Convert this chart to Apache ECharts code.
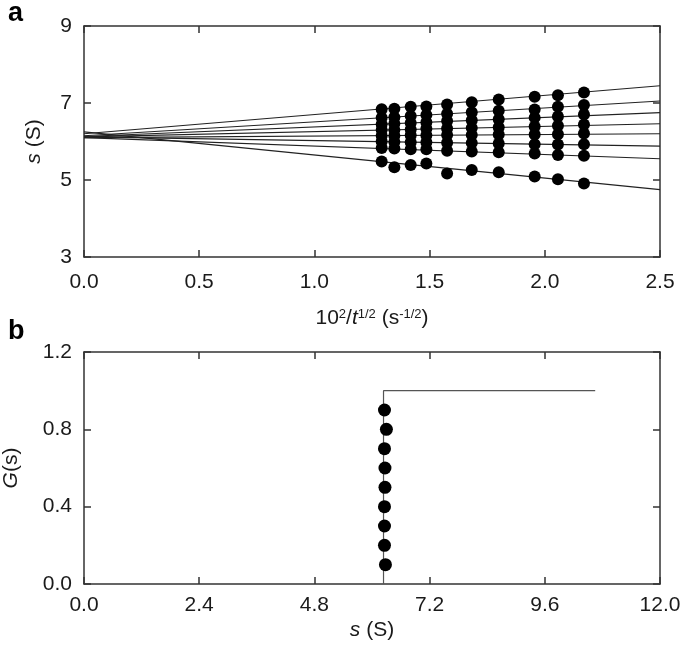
<!DOCTYPE html>
<html>
<head>
<meta charset="utf-8">
<script src="https://cdn.jsdelivr.net/npm/echarts@6/dist/echarts.min.js"></script>
<style>
html,body{margin:0;padding:0;background:#fff;}
#c{width:685px;height:646px;}
</style>
</head>
<body>
<div id="c"></div>
<script>
// ---- Panel a data ----
const xCols = [1.292, 1.347, 1.418, 1.486, 1.576, 1.683, 1.800, 1.956, 2.057, 2.170];
const sRow1 = [6.84, 6.85, 6.90, 6.91, 6.96, 7.02, 7.09, 7.16, 7.20, 7.27];
const sRow2 = [6.62, 6.63, 6.66, 6.69, 6.72, 6.76, 6.80, 6.83, 6.90, 6.95];
const sRow3 = [6.45, 6.46, 6.48, 6.50, 6.53, 6.55, 6.58, 6.62, 6.65, 6.70];
const sRow4 = [6.30, 6.30, 6.31, 6.33, 6.34, 6.35, 6.37, 6.39, 6.41, 6.44];
const sRow5 = [6.15, 6.15, 6.16, 6.16, 6.17, 6.17, 6.18, 6.18, 6.19, 6.21];
const sRow6 = [6.00, 5.99, 5.98, 5.98, 5.97, 5.96, 5.95, 5.93, 5.92, 5.93];
const sRow7 = [5.83, 5.82, 5.80, 5.80, 5.76, 5.74, 5.72, 5.69, 5.65, 5.63];
const sRow8 = [5.48, 5.33, 5.39, 5.43, 5.17, 5.26, 5.20, 5.09, 5.02, 4.91];
const sRows = [sRow1, sRow2, sRow3, sRow4, sRow5, sRow6, sRow7, sRow8];
const fitX = [0, 2.5];
const fitStart = [6.20, 6.15, 6.13, 6.12, 6.10, 6.12, 6.10, 6.25];
const fitEnd = [7.45, 7.05, 6.75, 6.46, 6.20, 5.88, 5.55, 4.75];

// ---- Panel b data ----
const gLevels = [0.1, 0.2, 0.3, 0.4, 0.5, 0.6, 0.7, 0.8, 0.9];
const gS = [6.28, 6.26, 6.26, 6.26, 6.27, 6.27, 6.26, 6.30, 6.26];
const stepS = [6.24, 6.24, 10.65];
const stepG = [0, 1.0, 1.0];

const FONT = 'Liberation Sans, Arial, sans-serif';
const FS = 21;
const TXT = '#1a1a1a';
const AX = '#333';

function baseAxis(extra) {
  return Object.assign({
    axisLine: {show: true, onZero: false, lineStyle: {color: AX, width: 1.5}},
    axisTick: {show: true, inside: true, length: 7, lineStyle: {color: AX, width: 1.5}},
    splitLine: {show: false}
  }, extra);
}
function mirror(extra) {
  return Object.assign({
    axisLine: {show: true, onZero: false, lineStyle: {color: AX, width: 1.5}},
    axisTick: {show: true, inside: true, length: 7, lineStyle: {color: AX, width: 1.5}},
    axisLabel: {show: false},
    splitLine: {show: false}
  }, extra);
}
const richBase = {
  a: {fontSize: FS, fontFamily: FONT, color: TXT},
  i: {fontSize: FS, fontFamily: FONT, color: TXT, fontStyle: 'italic'},
  sup: {fontSize: 13, fontFamily: FONT, color: TXT, verticalAlign: 'top', padding: [0, 0, 11, 0], lineHeight: 13}
};

const series = [];
for (let i = 0; i < fitStart.length; i++) {
  series.push({
    type: 'line', xAxisIndex: 0, yAxisIndex: 0,
    data: [[fitX[0], fitStart[i]], [fitX[1], fitEnd[i]]],
    showSymbol: false, symbol: 'none', silent: true,
    lineStyle: {color: '#222', width: 1.1}, z: 2
  });
}
for (let i = 0; i < sRows.length; i++) {
  series.push({
    type: 'scatter', xAxisIndex: 0, yAxisIndex: 0,
    data: xCols.map((x, j) => [x, sRows[i][j]]),
    symbol: 'circle', symbolSize: 12,
    itemStyle: {color: '#000', opacity: 1}, z: 3
  });
}
series.push({
  type: 'line', xAxisIndex: 2, yAxisIndex: 2,
  data: stepS.map((s, i) => [s, stepG[i]]),
  showSymbol: false, symbol: 'none',
  lineStyle: {color: '#555', width: 1.2}, z: 2
});
series.push({
  type: 'scatter', xAxisIndex: 2, yAxisIndex: 2,
  data: gLevels.map((g, i) => [gS[i], g]),
  symbol: 'circle', symbolSize: 13,
  itemStyle: {color: '#000', opacity: 1}, z: 3
});

const option = {
  backgroundColor: '#fff',
  animation: false,
  title: [
    {text: 'a', left: 3, top: -5, textStyle: {fontSize: 27, fontWeight: 'bold', fontFamily: FONT, color: '#000'}},
    {text: 'b', left: 3, top: 313, textStyle: {fontSize: 27, fontWeight: 'bold', fontFamily: FONT, color: '#000'}}
  ],
  grid: [
    {left: 84, top: 26, width: 576, height: 231, containLabel: false, outerBoundsMode: 'none'},
    {left: 84, top: 352, width: 576, height: 232, containLabel: false, outerBoundsMode: 'none'}
  ],
  xAxis: [
    baseAxis({
      type: 'value', gridIndex: 0, min: 0, max: 2.5, interval: 0.5, position: 'bottom',
      axisLabel: {color: TXT, fontSize: FS, fontFamily: FONT, margin: 15, formatter: v => v.toFixed(1)},
      name: '{a|10}{sup|2}{a|/}{i|t}{sup|1/2}{a| (s}{sup|-1/2}{a|)}',
      nameLocation: 'middle', nameGap: 51,
      nameTextStyle: {rich: richBase}
    }),
    mirror({type: 'value', gridIndex: 0, min: 0, max: 2.5, interval: 0.5, position: 'top'}),
    baseAxis({
      type: 'value', gridIndex: 1, min: 0, max: 12, interval: 2.4, position: 'bottom',
      axisLabel: {color: TXT, fontSize: FS, fontFamily: FONT, margin: 11, formatter: v => v.toFixed(1)},
      name: '{i|s}{a| (S)}', nameLocation: 'middle', nameGap: 36,
      nameTextStyle: {rich: richBase}
    }),
    mirror({type: 'value', gridIndex: 1, min: 0, max: 12, interval: 2.4, position: 'top'})
  ],
  yAxis: [
    baseAxis({
      type: 'value', gridIndex: 0, min: 3, max: 9, interval: 2, position: 'left',
      axisLabel: {color: TXT, fontSize: FS, fontFamily: FONT, margin: 12},
      name: '{i|s}{a| (S)}', nameLocation: 'middle', nameGap: 39, nameRotate: 90,
      nameTextStyle: {rich: richBase}
    }),
    mirror({type: 'value', gridIndex: 0, min: 3, max: 9, interval: 2, position: 'right'}),
    baseAxis({
      type: 'value', gridIndex: 1, min: 0, max: 1.2, interval: 0.4, position: 'left',
      axisLabel: {color: TXT, fontSize: FS, fontFamily: FONT, margin: 12, formatter: v => v.toFixed(1)},
      name: '{i|G}{a|(s)}', nameLocation: 'middle', nameGap: 62, nameRotate: 90,
      nameTextStyle: {rich: richBase}
    }),
    mirror({type: 'value', gridIndex: 1, min: 0, max: 1.2, interval: 0.4, position: 'right'})
  ],
  series: series
};
const chart = echarts.init(document.getElementById('c'), null, {renderer: 'canvas'});
chart.setOption(option);
</script>
</body>
</html>
